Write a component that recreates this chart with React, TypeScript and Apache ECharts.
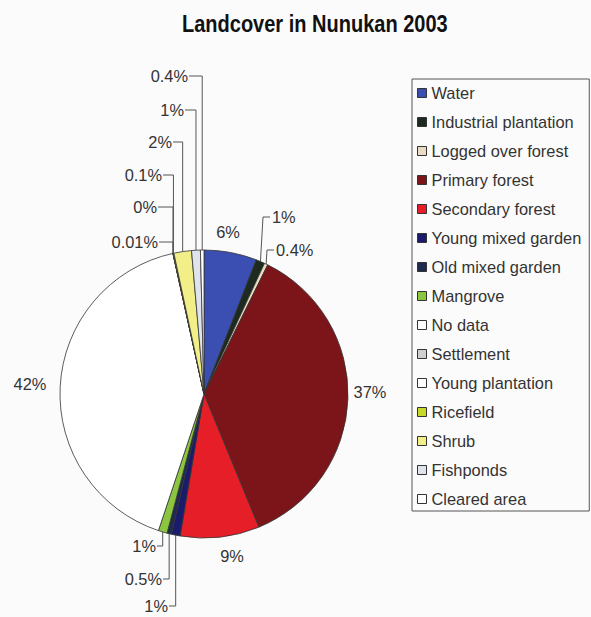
import React, { useEffect, useRef } from "react";
import * as echarts from "echarts";

const titleText = "Landcover in Nunukan 2003";

const categories = [
  "Water",
  "Industrial plantation",
  "Logged over forest",
  "Primary forest",
  "Secondary forest",
  "Young mixed garden",
  "Old mixed garden",
  "Mangrove",
  "No data",
  "Settlement",
  "Young plantation",
  "Ricefield",
  "Shrub",
  "Fishponds",
  "Cleared area",
];

const shares = [6, 1, 0.4, 37, 9, 1, 0.5, 1, 42, 0.01, 0, 0.1, 2, 1, 0.4];

const colors = [
  "#3b4fb2",
  "#1d2a1f",
  "#eadcc0",
  "#7b1519",
  "#e61e27",
  "#1b1b6e",
  "#1e2b4e",
  "#8cc640",
  "#ffffff",
  "#cfcfcf",
  "#ffffff",
  "#c9d928",
  "#f2ee88",
  "#dfe3ec",
  "#ffffff",
];

// label placement (layout only): anchor x, y, text alignment, leader style
type Spot = { x: number; y: number; align: "left" | "right" | "center"; line: "none" | "elbow" | "slant" };
const labelSpots: Spot[] = [
  { x: 228, y: 232, align: "center", line: "none" },
  { x: 272, y: 217, align: "left", line: "slant" },
  { x: 276, y: 250, align: "left", line: "slant" },
  { x: 370, y: 392, align: "center", line: "none" },
  { x: 232, y: 556, align: "center", line: "none" },
  { x: 168, y: 606, align: "right", line: "elbow" },
  { x: 162, y: 579, align: "right", line: "elbow" },
  { x: 156, y: 546, align: "right", line: "elbow" },
  { x: 30, y: 384, align: "center", line: "none" },
  { x: 158, y: 242, align: "right", line: "elbow" },
  { x: 157, y: 207, align: "right", line: "elbow" },
  { x: 162, y: 175, align: "right", line: "elbow" },
  { x: 172, y: 142, align: "right", line: "elbow" },
  { x: 184, y: 110, align: "right", line: "elbow" },
  { x: 188, y: 76, align: "right", line: "elbow" },
];

const PIE_CENTER: [number, number] = [204, 394];
const PIE_RADIUS = 144;

function edgePoint(index: number): number[] {
  const total = shares.reduce((a, b) => a + b, 0);
  let before = 0;
  for (let i = 0; i < index; i++) before += shares[i];
  const mid = (before + shares[index] / 2) / total;
  const ang = mid * Math.PI * 2;
  return [PIE_CENTER[0] + PIE_RADIUS * Math.sin(ang), PIE_CENTER[1] - PIE_RADIUS * Math.cos(ang)];
}

export default function App() {
  const ref = useRef<HTMLDivElement>(null);

  useEffect(() => {
    if (!ref.current) return;
    const chart = echarts.init(ref.current, null, { renderer: "svg" });
    const font = "'Liberation Sans', Arial, sans-serif";

    const data = categories.map((name, i) => ({
      name,
      value: shares[i],
      itemStyle: { color: colors[i] },
      labelLine: { show: labelSpots[i].line !== "none" },
    }));

    chart.setOption({
      animation: false,
      backgroundColor: "#fbfbfb",
      graphic: [
        {
          type: "text",
          x: 182,
          y: 23.5,
          scaleX: 0.87,
          style: {
            text: titleText,
            font: "bold 23px 'Liberation Sans', Arial, sans-serif",
            fill: "#111",
            align: "left",
            verticalAlign: "middle",
          },
        },
      ],
      legend: {
        orient: "vertical",
        left: 412,
        top: 79,
        icon: "rect",
        itemWidth: 9,
        itemHeight: 9,
        itemGap: 13,
        padding: [6, 8, 4, 5],
        borderColor: "#555",
        borderWidth: 1,
        selectedMode: false,
        itemStyle: { borderColor: "#333", borderWidth: 1 },
        textStyle: { fontFamily: font, fontSize: 16.4, color: "#333", lineHeight: 16 },
        data: categories,
      },
      series: [
        {
          type: "pie",
          center: PIE_CENTER,
          radius: PIE_RADIUS,
          startAngle: 90,
          clockwise: true,
          avoidLabelOverlap: false,
          itemStyle: { borderColor: "#333", borderWidth: 0.8 },
          label: {
            show: true,
            position: "outside",
            formatter: "{c}%",
            fontFamily: font,
            fontSize: 16.4,
            color: "#333",
          },
          labelLine: {
            show: true,
            length: 10,
            length2: 10,
            lineStyle: { color: "#555", width: 1 },
          },
          emphasis: { disabled: true },
          labelLayout: (params: any) => {
            const i = params.dataIndex;
            const s = labelSpots[i];
            const start =
              params.labelLinePoints && params.labelLinePoints[0]
                ? params.labelLinePoints[0]
                : edgePoint(i);
            const out: any = { x: s.x, y: s.y, align: s.align, verticalAlign: "middle" };
            if (s.line === "elbow") {
              const endX = s.x + 1;
              out.labelLinePoints = [
                [start[0], start[1]],
                [start[0], s.y],
                [endX, s.y],
              ];
            } else if (s.line === "slant") {
              out.labelLinePoints = [
                [start[0], start[1]],
                [s.x - 9, s.y],
                [s.x - 2, s.y],
              ];
            }
            return out;
          },
          data,
        },
      ],
    });

    return () => chart.dispose();
  }, []);

  return (
    <div
      ref={ref}
      style={{ position: "absolute", left: 0, top: 0, width: 591, height: 617 }}
    />
  );
}
